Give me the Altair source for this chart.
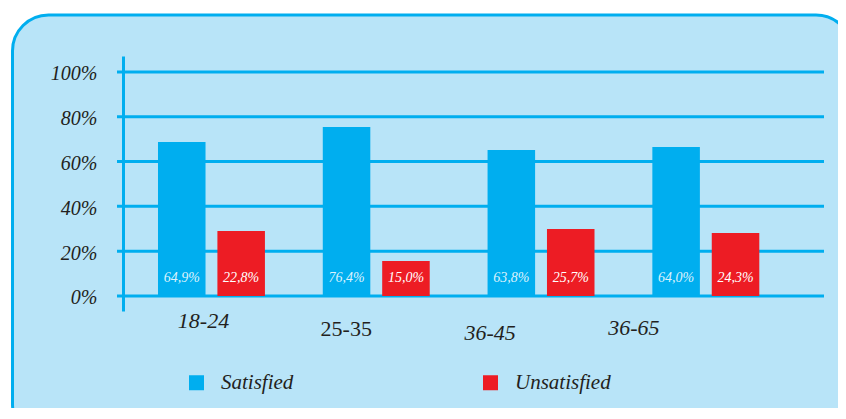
import altair as alt
import pandas as pd

# ---- data ----
categories = ["18-24", "25-35", "36-45", "36-65"]
series = ["Satisfied", "Unsatisfied"]
satisfied = [68.7, 75.4, 65.2, 66.5]          # bar heights (%)
unsatisfied = [29.0, 15.6, 29.9, 28.1]        # bar heights (%)
satisfied_labels = ["64,9%", "76,4%", "63,8%", "64,0%"]
unsatisfied_labels = ["22,8%", "15,0%", "25,7%", "24,3%"]
y_ticks = [0, 20, 40, 60, 80, 100]

rows = []
for i, c in enumerate(categories):
    rows.append({"group": c, "status": series[0], "value": satisfied[i], "label": satisfied_labels[i]})
    rows.append({"group": c, "status": series[1], "value": unsatisfied[i], "label": unsatisfied_labels[i]})
df = pd.DataFrame(rows)
grid_df = pd.DataFrame({"tick": y_ticks})

BLUE = "#00AEEF"
RED = "#ED1C24"
FILL = "#B8E4F8"
INK = "#231F20"
FONT = "Liberation Serif"

W, H = 701, 255
y_scale = alt.Scale(domain=[-6.7, 107.1], nice=False, zero=False)

y_axis = alt.Axis(values=y_ticks, labelExpr="datum.value + '%'", title=None, grid=False,
                  ticks=False, domain=True, domainColor=BLUE, domainWidth=3,
                  labelFont=FONT, labelFontStyle="italic", labelFontSize=20, labelColor=INK,
                  labelPadding=26, labelOffset=2, zindex=1)

x_axis = alt.Axis(
    title=None, domain=False, ticks=False, tickSize=0, labelAngle=0,
    labelFont=FONT, labelFontSize=22, labelColor=INK, labelBaseline="middle",
    labelFontStyle={"condition": {"test": "datum.value === '25-35'", "value": "normal"}, "value": "italic"},
    labelOffset={"condition": [
        {"test": "datum.value === '18-24'", "value": -8},
        {"test": "datum.value === '25-35'", "value": -30},
        {"test": "datum.value === '36-45'", "value": -51}], "value": -72},
    labelPadding={"condition": [
        {"test": "datum.value === '18-24'", "value": 9},
        {"test": "datum.value === '25-35'", "value": 17},
        {"test": "datum.value === '36-45'", "value": 21}], "value": 16},
    zindex=1)

x_scale = alt.Scale(paddingInner=0.351, paddingOuter=0.3025, align=0.351)
xo = alt.XOffset("status:N", sort=series, scale=alt.Scale(paddingInner=0.2, paddingOuter=0))

box = alt.Chart(alt.Data(values=[{"k": 1}])).mark_rect(
    fill=FILL, stroke=BLUE, strokeWidth=3, cornerRadius=36
).encode(x=alt.value(-110.5), x2=alt.value(729), y=alt.value(-41), y2=alt.value(384))

grid = alt.Chart(grid_df).mark_rule(color=BLUE, strokeWidth=3).encode(
    y=alt.Y("tick:Q", scale=y_scale, axis=y_axis),
    x=alt.value(-6), x2=alt.value(W))

bars = alt.Chart(df).mark_bar().encode(
    x=alt.X("group:N", sort=categories, scale=x_scale, axis=x_axis),
    xOffset=xo,
    y=alt.Y("value:Q", scale=y_scale, axis=y_axis),
    color=alt.Color("status:N", scale=alt.Scale(domain=series, range=[BLUE, RED]),
                    legend=alt.Legend(title=None, orient="none", legendX=63, legendY=316,
                                      direction="horizontal", symbolType="square",
                                      symbolSize=225, symbolStrokeWidth=0,
                                      labelFont=FONT, labelFontStyle="italic",
                                      labelFontSize=21, labelColor=INK, labelOffset=14,
                                      columnPadding=186, padding=0)))

labels = alt.Chart(df).mark_text(font=FONT, fontStyle="italic", fontSize=14,
                                 baseline="middle", dy=-18).encode(
    x=alt.X("group:N", sort=categories, scale=x_scale),
    xOffset=xo,
    y=alt.datum(0),
    text="label:N",
    color=alt.condition("datum.status === 'Satisfied'", alt.value("#DDF2FC"), alt.value("white")))

chart = alt.layer(box, grid, bars, labels).properties(
    width=W, height=H,
    padding={"left": 115, "top": 48, "right": 14, "bottom": 97},
    autosize=alt.AutoSizeParams(type="none"),
    background="white",
).configure_view(stroke=None)

chart.save("out.html", embed_options={"renderer": "svg", "actions": False})
